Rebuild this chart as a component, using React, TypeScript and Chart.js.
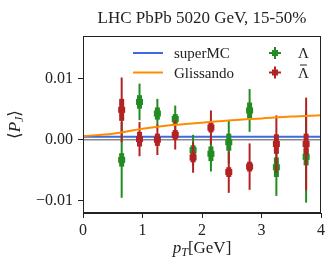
import React, { useEffect, useRef } from 'react';
import { Chart, registerables } from 'chart.js';

Chart.register(...registerables);

const TITLE = 'LHC PbPb 5020 GeV, 15-50%';

// pT bin centres (GeV)
const pT = [0.65, 0.95, 1.25, 1.55, 1.85, 2.15, 2.45, 2.8, 3.25, 3.75];
// Lambda
const lambdaVal = [-0.0033, 0.0062, 0.0043, 0.0034, -0.0017, -0.0023, -0.0004, 0.0048, -0.0045, -0.0028];
const lambdaOuter = [0.0062, 0.003, 0.0024, 0.0022, 0.0025, 0.0029, 0.0035, 0.0035, 0.0047, 0.0075];
const lambdaInner = [0.0011, 0.0011, 0.001, 0.0008, 0.0008, 0.0012, 0.0014, 0.0013, 0.0016, 0.0014];
// Anti-Lambda
const lambdaBarVal = [0.0049, 0.0001, 0.0, 0.0008, -0.0029, 0.002, -0.0053, -0.0044, -0.0007, -0.0007];
const lambdaBarOuter = [0.0053, 0.0028, 0.0025, 0.0024, 0.0025, 0.0028, 0.0034, 0.0038, 0.0047, 0.0076];
const lambdaBarInner = [0.0018, 0.0012, 0.001, 0.0008, 0.0008, 0.0008, 0.0008, 0.0008, 0.0016, 0.0017];

// model curves
const modelX = [0, 0.5, 1, 1.5, 2, 2.5, 3, 3.5, 4];
const glissando = [0.0006, 0.001, 0.0018, 0.0024, 0.0028, 0.0032, 0.0035, 0.0038, 0.004];
const superMC = [0.0005, 0.0005, 0.0005, 0.0005, 0.0005, 0.0005, 0.0005, 0.0005, 0.0005];
const zeroLine = [0, 0, 0, 0, 0, 0, 0, 0, 0];

const xTicks = [0, 1, 2, 3, 4];
const xTickLabels = ['0', '1', '2', '3', '4'];
const yTicks = [-0.01, 0, 0.01];
const yTickLabels = ['\u22120.01', '0.00', '0.01'];

const BLUE = '#4169e1';
const ORANGE = '#ff8c00';
const GREEN = '#228b22';
const RED = '#b22222';
const GREY = '#888888';
const FONT = "'Liberation Serif', 'DejaVu Serif', serif";

const errorSeries: Record<string, { val: number[]; outer: number[]; inner: number[]; color: string }> = {
  lambda: { val: lambdaVal, outer: lambdaOuter, inner: lambdaInner, color: GREEN },
  lambdaBar: { val: lambdaBarVal, outer: lambdaBarOuter, inner: lambdaBarInner, color: RED },
};

const errorBarPlugin = {
  id: 'errorBars',
  afterDatasetDraw(chart: any, args: any) {
    const ds = chart.data.datasets[args.index];
    const s = errorSeries[ds.key];
    if (!s) return;
    const { ctx, scales } = chart;
    const x = scales.x;
    const y = scales.y;
    ctx.save();
    ctx.strokeStyle = s.color;
    ctx.fillStyle = s.color;
    s.val.forEach((v, i) => {
      const px = x.getPixelForValue(pT[i]);
      const py = y.getPixelForValue(v);
      const o1 = y.getPixelForValue(v + s.outer[i]);
      const o2 = y.getPixelForValue(v - s.outer[i]);
      ctx.lineWidth = 2;
      ctx.beginPath();
      ctx.moveTo(px, o1);
      ctx.lineTo(px, o2);
      ctx.stroke();
      const i1 = y.getPixelForValue(v + s.inner[i]);
      const i2 = y.getPixelForValue(v - s.inner[i]);
      ctx.fillRect(px - 2.5, i1, 5, i2 - i1);
      ctx.fillRect(px - 3.5, py - 3, 7, 6);
    });
    ctx.restore();
  },
};

function drawPieces(ctx: CanvasRenderingContext2D, pieces: { t: string; font: string; dy: number }[], cx: number, baseline: number) {
  let total = 0;
  const widths = pieces.map((p) => {
    ctx.font = p.font;
    const w = ctx.measureText(p.t).width;
    total += w;
    return w;
  });
  let xx = cx - total / 2;
  pieces.forEach((p, i) => {
    ctx.font = p.font;
    ctx.fillText(p.t, xx, baseline + p.dy);
    xx += widths[i];
  });
}

const decorPlugin = {
  id: 'decor',
  afterDraw(chart: any) {
    const { ctx, chartArea: a } = chart;
    ctx.save();
    // frame
    ctx.strokeStyle = '#222';
    ctx.lineWidth = 1;
    ctx.strokeRect(Math.round(a.left) + 0.5, Math.round(a.top) + 0.5, Math.round(a.right - a.left) - 1, Math.round(a.bottom - a.top) - 1);

    ctx.fillStyle = '#222';
    ctx.textAlign = 'left';
    ctx.textBaseline = 'alphabetic';
    // title
    ctx.font = `17px ${FONT}`;
    const tw = ctx.measureText(TITLE).width;
    ctx.fillText(TITLE, (a.left + a.right) / 2 - tw / 2, 23);

    // x axis title
    drawPieces(
      ctx,
      [
        { t: 'p', font: `italic 17px ${FONT}`, dy: 0 },
        { t: 'T', font: `italic 12px ${FONT}`, dy: 3 },
        { t: '[GeV]', font: `17px ${FONT}`, dy: 0 },
      ],
      (a.left + a.right) / 2,
      253
    );

    // y axis title
    ctx.save();
    ctx.translate(20, (a.top + a.bottom) / 2);
    ctx.rotate(-Math.PI / 2);
    drawPieces(
      ctx,
      [
        { t: '\u27E8', font: `17px ${FONT}`, dy: 0 },
        { t: 'P', font: `italic 17px ${FONT}`, dy: 0 },
        { t: 'J', font: `italic 12px ${FONT}`, dy: 3 },
        { t: '\u27E9', font: `17px ${FONT}`, dy: 0 },
      ],
      0,
      0
    );
    ctx.restore();

    // legend
    const rows = [53, 72.5];
    ctx.lineWidth = 2;
    [BLUE, ORANGE].forEach((c, i) => {
      ctx.strokeStyle = c;
      ctx.beginPath();
      ctx.moveTo(133, rows[i]);
      ctx.lineTo(163, rows[i]);
      ctx.stroke();
    });
    ctx.fillStyle = '#222';
    ctx.font = `15px ${FONT}`;
    ctx.fillText('superMC', 174, rows[0] + 5);
    ctx.fillText('Glissando', 174, rows[1] + 5);
    [GREEN, RED].forEach((c, i) => {
      const cx = 275;
      const cy = rows[i];
      ctx.strokeStyle = c;
      ctx.fillStyle = c;
      ctx.lineWidth = 2;
      ctx.beginPath();
      ctx.moveTo(cx - 6, cy);
      ctx.lineTo(cx + 6, cy);
      ctx.moveTo(cx, cy - 6);
      ctx.lineTo(cx, cy + 6);
      ctx.stroke();
      ctx.fillRect(cx - 3, cy - 3, 6, 6);
    });
    ctx.fillStyle = '#222';
    ctx.font = `15px ${FONT}`;
    ctx.fillText('\u039B', 298, rows[0] + 5);
    ctx.fillText('\u039B', 298, rows[1] + 5);
    // overbar for anti-Lambda
    const lw = ctx.measureText('\u039B').width;
    ctx.strokeStyle = '#222';
    ctx.lineWidth = 1;
    ctx.beginPath();
    ctx.moveTo(298 + 2, rows[1] - 7.5);
    ctx.lineTo(298 + lw - 2, rows[1] - 7.5);
    ctx.stroke();
    ctx.restore();
  },
};

export default function App() {
  const ref = useRef<HTMLCanvasElement | null>(null);
  useEffect(() => {
    document.body.style.margin = '0';
    const canvas = ref.current;
    if (!canvas) return;
    const line = (ys: number[]) => modelX.map((x, i) => ({ x, y: ys[i] }));
    const pts = (ys: number[]) => pT.map((x, i) => ({ x, y: ys[i] }));
    const chart = new Chart(canvas, {
      type: 'line',
      data: {
        datasets: [
          { key: 'glissando', label: 'Glissando', data: line(glissando), borderColor: ORANGE, borderWidth: 2, pointRadius: 0, cubicInterpolationMode: 'monotone' } as any,
          { key: 'lambdaBar', label: '\u039B\u0304', data: pts(lambdaBarVal), showLine: false, pointRadius: 0, borderColor: RED } as any,
          { key: 'lambda', label: '\u039B', data: pts(lambdaVal), showLine: false, pointRadius: 0, borderColor: GREEN } as any,
          { key: 'superMC', label: 'superMC', data: line(superMC), borderColor: BLUE, borderWidth: 2, pointRadius: 0 } as any,
          { key: 'zero', label: 'zero', data: line(zeroLine), borderColor: GREY, borderWidth: 1.5, pointRadius: 0 } as any,
        ],
      },
      options: {
        animation: false,
        responsive: false,
        devicePixelRatio: 1,
        layout: { padding: { left: 0, right: 15, top: 36, bottom: 0 } },
        plugins: { legend: { display: false }, tooltip: { enabled: false }, title: { display: false } },
        scales: {
          x: {
            type: 'linear',
            min: 0,
            max: 4,
            afterFit: (s: any) => { s.height = 57; },
            afterBuildTicks: (s: any) => { s.ticks = xTicks.map((v) => ({ value: v })); },
            ticks: {
              color: '#222',
              font: { family: FONT, size: 16 },
              padding: 3,
              maxRotation: 0,
              callback: (v: any) => xTickLabels[xTicks.indexOf(Number(v))] ?? '',
            },
            grid: { display: true, drawOnChartArea: false, drawTicks: true, tickLength: 5, tickColor: '#222', tickWidth: 1 },
            border: { display: true, color: '#222', width: 1 },
          },
          y: {
            type: 'linear',
            min: -0.012,
            max: 0.017,
            afterFit: (s: any) => { s.width = 83; },
            afterBuildTicks: (s: any) => { s.ticks = yTicks.map((v) => ({ value: v })); },
            ticks: {
              color: '#222',
              font: { family: FONT, size: 16 },
              padding: 5,
              callback: (v: any) => {
                const idx = yTicks.findIndex((t) => Math.abs(t - Number(v)) < 1e-9);
                return idx >= 0 ? yTickLabels[idx] : '';
              },
            },
            grid: { display: true, drawOnChartArea: false, drawTicks: true, tickLength: 5, tickColor: '#222', tickWidth: 1 },
            border: { display: true, color: '#222', width: 1 },
          },
        },
      } as any,
      plugins: [errorBarPlugin, decorPlugin],
    });
    return () => chart.destroy();
  }, []);
  return (
    <div style={{ position: 'absolute', left: 0, top: 0, width: 336, height: 270 }}>
      <canvas ref={ref} width={336} height={270} style={{ width: 336, height: 270, display: 'block' }} />
    </div>
  );
}
